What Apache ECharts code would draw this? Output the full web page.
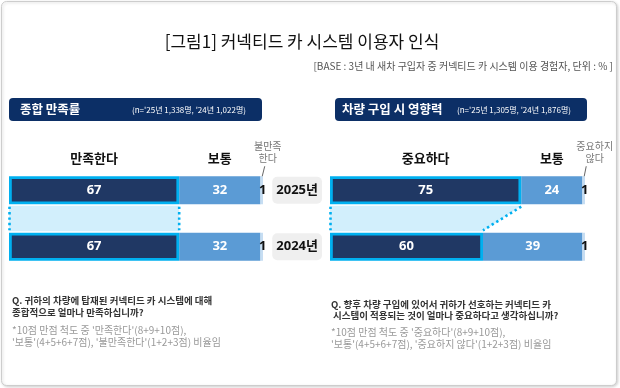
<!DOCTYPE html>
<html><head><meta charset="utf-8">
<script src="https://cdn.jsdelivr.net/npm/echarts@6/dist/echarts.min.js"></script>
<style>html,body{margin:0;padding:0;background:#fff}#c{width:620px;height:388px}</style>
</head><body><div id="c"></div>
<script>
// ---- data ----
const years = ['2025년', '2024년'];
const satCats = ['만족한다', '보통', '불만족\n한다'];
const sat2025 = [67, 32, 1];
const sat2024 = [67, 32, 1];
const impCats = ['중요하다', '보통', '중요하지\n않다'];
const imp2025 = [75, 24, 1];
const imp2024 = [60, 39, 1];

// ---- style ----
const KR = '"Noto Sans CJK KR", "Noto Sans", sans-serif';
const NUM = '"Noto Sans", "Noto Sans CJK KR", sans-serif';
const BAR_H = 28;
const segColors = ['#203864', '#5b9bd5', '#c6ddf2'];
const cyan = '#00b0f0';

function barSeries(k, v25, v24) {
  return [0, 1, 2].map(i => ({
    type: 'bar', xAxisIndex: k, yAxisIndex: k, stack: 's' + k, barWidth: BAR_H,
    z: i === 0 ? 4 : 3,
    data: [v25[i], v24[i]],
    itemStyle: i === 0 ? { color: segColors[0], borderColor: cyan, borderWidth: 2.8 } : { color: segColors[i] },
    label: {
      show: true, position: 'inside', offset: i === 2 ? [1, 0] : [0, 0],
      color: i === 2 ? '#111' : '#fff', fontWeight: 'bold', fontSize: 13, fontFamily: NUM
    },
    emphasis: { disabled: true }, silent: true
  }));
}

function bandSeries(k, v25, v24) {
  return {
    type: 'custom', xAxisIndex: k, yAxisIndex: k, z: 1, silent: true,
    data: [[v25[0], v24[0]]],
    renderItem(params, api) {
      const a = api.value(0), b = api.value(1);
      const h = BAR_H / 2;
      const c0 = api.coord([0, 0]), cA = api.coord([a, 0]);
      const c1 = api.coord([0, 1]), cB = api.coord([b, 1]);
      const yT = c0[1] + h + 1.4, yB = c1[1] - h - 1.4;
      const dot = { stroke: cyan, lineWidth: 2.6, lineDash: [2.4, 3], fill: null };
      return {
        type: 'group', children: [
          { type: 'polygon', shape: { points: [[c0[0], yT], [cA[0], yT], [cB[0], yB], [c1[0], yB]] }, style: { fill: '#d2effc' } },
          { type: 'line', shape: { x1: c0[0] + 0.5, y1: yT + 1, x2: c1[0] + 0.5, y2: yB - 1 }, style: dot },
          { type: 'line', shape: { x1: cA[0], y1: yT + 1, x2: cB[0], y2: yB - 1 }, style: dot }
        ]
      };
    }
  };
}

function headerSeries(k, v25, cats, pale) {
  const data = [];
  let s = 0;
  v25.forEach((v, i) => { data.push([s, s + v, i]); s += v; });
  return {
    type: 'custom', xAxisIndex: k, yAxisIndex: k, z: 5, silent: true,
    data: data,
    renderItem(params, api) {
      const i = api.value(2);
      const mid = (api.value(0) + api.value(1)) / 2;
      const c = api.coord([mid, 0]);
      const top = c[1] - BAR_H / 2 - 1;
      if (i < 2) {
        return { type: 'text', x: c[0], y: top - 11,
          style: { text: cats[i], fill: '#111', font: 'bold 13px ' + KR, textAlign: 'center', align: 'center', textVerticalAlign: 'bottom', verticalAlign: 'bottom' } };
      }
      return { type: 'group', children: [
        { type: 'text', x: c[0] + pale.dx, y: top - 11,
          style: { text: cats[i], fill: '#777', font: '10px ' + KR, lineHeight: 12, textAlign: 'center', align: 'center', textVerticalAlign: 'bottom', verticalAlign: 'bottom' } },
        { type: 'line', shape: { x1: c[0] + pale.lx, y1: top - 9, x2: c[0] + 0.5, y2: top + 1 }, style: { stroke: '#666', lineWidth: 1 } }
      ] };
    }
  };
}

function txt(x, y, text, font, fill, align) {
  return { type: 'text', x: x, y: y, z: 2,
    style: { text: text, font: font, fill: fill, textAlign: align || 'left', align: align || 'left', textVerticalAlign: 'middle', verticalAlign: 'middle' } };
}

const chart = echarts.init(document.getElementById('c'), null, { renderer: 'canvas' });
chart.setOption({
  animation: false,
  grid: [
    { left: 9, top: 162, width: 254, height: 113 },
    { left: 330, top: 162, width: 255, height: 113 }
  ],
  xAxis: [
    { gridIndex: 0, type: 'value', min: 0, max: 100, show: false },
    { gridIndex: 1, type: 'value', min: 0, max: 100, show: false }
  ],
  yAxis: [
    { gridIndex: 0, type: 'category', data: years, inverse: true, show: false },
    { gridIndex: 1, type: 'category', data: years, inverse: true,
      axisLine: { show: false }, axisTick: { show: false }, splitLine: { show: false },
      axisLabel: { margin: 8, color: '#111', fontWeight: 'bold', fontSize: 13, fontFamily: NUM,
        backgroundColor: '#efefef', borderRadius: 5, padding: [7, 4, 7, 4] } }
  ],
  graphic: [
    { type: 'rect', z: 0, shape: { x: 1.5, y: 1.5, width: 615, height: 384, r: 5 },
      style: { fill: '#fff', stroke: '#cdcdcd', lineWidth: 1, shadowBlur: 3, shadowOffsetX: 1, shadowOffsetY: 1, shadowColor: 'rgba(0,0,0,0.18)' } },
    txt(302, 42, '[그림1] 커넥티드 카 시스템 이용자 인식', '17px ' + KR, '#111', 'center'),
    txt(613, 66, '[BASE : 3년 내 새차 구입자 중 커넥티드 카 시스템 이용 경험자, 단위 : % ]', '10px ' + KR, '#555', 'right'),
    { type: 'rect', z: 1, shape: { x: 9, y: 98, width: 253, height: 23, r: 4 }, style: { fill: '#0c2f66' } },
    txt(20, 109.5, '종합 만족률', 'bold 12.5px ' + KR, '#fff'),
    txt(132, 110, "(n='25년 1,338명, '24년 1,022명)", '8px ' + KR, '#fff'),
    { type: 'rect', z: 1, shape: { x: 335, y: 98, width: 252, height: 23, r: 4 }, style: { fill: '#0c2f66' } },
    txt(342, 109.5, '차량 구입 시 영향력', 'bold 12.5px ' + KR, '#fff'),
    txt(457, 110, "(n='25년 1,305명, '24년 1,876명)", '8px ' + KR, '#fff'),
    txt(12, 300, 'Q. 귀하의 차량에 탑재된 커넥티드 카 시스템에 대해', 'bold 9.5px ' + KR, '#333'),
    txt(12, 312, '종합적으로 얼마나 만족하십니까?', 'bold 9.5px ' + KR, '#333'),
    txt(12, 330, "*10점 만점 척도 중 '만족한다'(8+9+10점),", '10px ' + KR, '#999'),
    txt(12, 342, "'보통'(4+5+6+7점), '불만족한다'(1+2+3점) 비율임", '10px ' + KR, '#999'),
    txt(331, 304, 'Q. 향후 차량 구입에 있어서 귀하가 선호하는 커넥티드 카', 'bold 9.5px ' + KR, '#333'),
    txt(333, 315.5, '시스템이 적용되는 것이 얼마나 중요하다고 생각하십니까?', 'bold 9.5px ' + KR, '#333'),
    txt(331, 332, "*10점 만점 척도 중 '중요하다'(8+9+10점),", '10px ' + KR, '#999'),
    txt(331, 344, "'보통'(4+5+6+7점), '중요하지 않다'(1+2+3점) 비율임", '10px ' + KR, '#999')
  ],
  series: [
    bandSeries(0, sat2025, sat2024),
    bandSeries(1, imp2025, imp2024),
    ...barSeries(0, sat2025, sat2024),
    ...barSeries(1, imp2025, imp2024),
    headerSeries(0, sat2025, satCats, { dx: 6, lx: 3 }),
    headerSeries(1, imp2025, impCats, { dx: 11, lx: 2.5 })
  ]
});
</script></body></html>
